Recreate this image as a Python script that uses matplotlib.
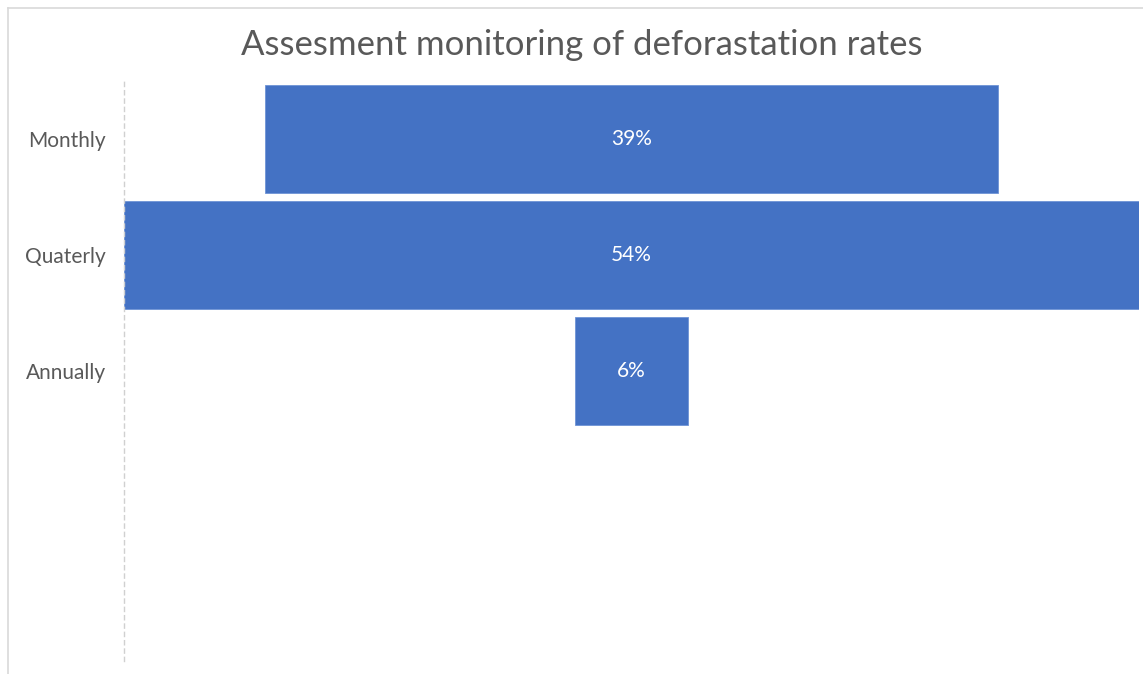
import matplotlib
matplotlib.use("Agg")
import matplotlib.pyplot as plt
from matplotlib.lines import Line2D

# Funnel data: share of respondents by monitoring frequency
categories = ["Monthly", "Quaterly", "Annually", "", ""]
values = [39, 54, 6, None, None]
value_labels = ["39%", "54%", "6%"]

BAR_COLOR = "#4472C4"
TEXT_GRAY = "#595959"
FONT = "Lato"

fig = plt.figure(figsize=(11.43, 6.74), dpi=100)
W, H = 1143, 674
ax = fig.add_axes([124 / W, 1 - 661 / H, (1139 - 124) / W, (661 - 81) / H])

positions = list(range(len(categories)))
vmax = max(v for v in values if v is not None)

for pos, v in zip(positions, values):
    if v is None:
        continue
    ax.barh(pos, v, left=-v / 2, height=0.93, color=BAR_COLOR,
            edgecolor="#6E93D6", linewidth=0.6)

for pos, v, lab in zip(positions, values, value_labels):
    ax.text(0, pos, lab, ha="center", va="center", color="white",
            fontsize=15, family=FONT)

ax.set_xlim(-vmax / 2, vmax / 2)
ax.set_ylim(len(categories) - 0.5, -0.5)
ax.set_yticks(positions)
ax.set_yticklabels(categories, fontsize=15, color=TEXT_GRAY, family=FONT)
ax.tick_params(axis="y", length=0, pad=13)
ax.set_xticks([])

for side in ["top", "right", "bottom"]:
    ax.spines[side].set_visible(False)
ax.spines["left"].set_color("#D0D0D0")
ax.spines["left"].set_linestyle((0, (3, 3)))
ax.spines["left"].set_linewidth(1.0)

fig.text(582 / W, 1 - 55 / H,
         "Assesment monitoring of deforastation rates",
         ha="center", va="baseline", fontsize=25, color=TEXT_GRAY, family=FONT)

# Chart-area frame (top and left edges)
fig.add_artist(Line2D([8 / W, 1], [1 - 8 / H, 1 - 8 / H], transform=fig.transFigure,
                      color="#D9D9D9", linewidth=1.2))
fig.add_artist(Line2D([8 / W, 8 / W], [1 - 8 / H, 0], transform=fig.transFigure,
                      color="#D9D9D9", linewidth=1.2))

fig.savefig("out.png", dpi=100, facecolor="white")
